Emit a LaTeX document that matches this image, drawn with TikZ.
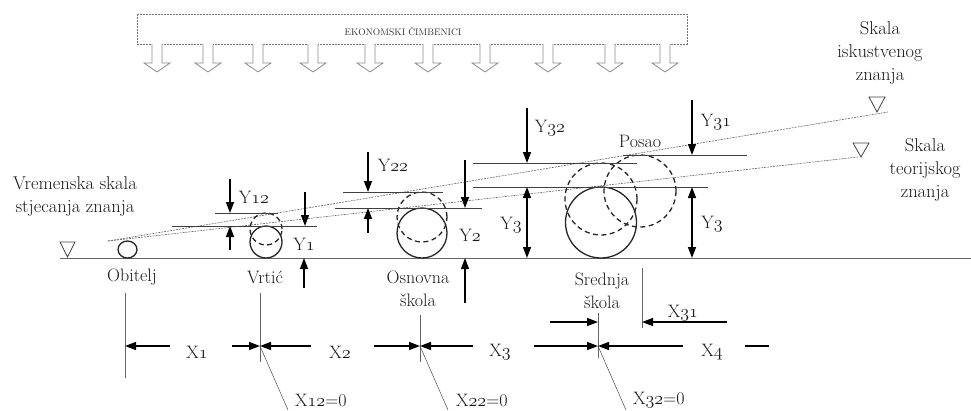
\documentclass[tikz,border=0pt]{standalone}
\usepackage{fix-cm}
\usepackage{fontspec}
\usetikzlibrary{arrows.meta}
\newcommand\osf[1]{{\usefont{OML}{cmm}{m}{it}#1}}
\begin{document}
\begin{tikzpicture}[x=1pt,y=-1pt,
  lbl/.style={font=\fontsize{18}{23}\selectfont, inner sep=0pt, text=black!90, align=center},
  big/.style={font=\fontsize{18.5}{23}\selectfont, inner sep=0pt, text=black!90, align=center},
  dimarr/.style={line width=1.4pt, -{Triangle[length=11pt,width=8pt]}},
  dimarrb/.style={line width=1.4pt, {Triangle[length=11pt,width=8pt]}-{Triangle[length=11pt,width=8pt]}},
  hl/.style={line width=0.9pt, draw=black!75},
  gl/.style={line width=0.8pt, draw=black!60},
  scaleline/.style={line width=0.6pt, draw=black!60, dash pattern=on 2pt off 1pt},
  dcirc/.style={line width=1.3pt, draw=black!85, dash pattern=on 5pt off 3.5pt},
  scirc/.style={line width=1.3pt, draw=black!85},
  hollow/.style={draw=black!45, line width=0.8pt, fill=white},
  tri/.style={draw=black!75, line width=0.8pt}
]
\useasboundingbox (0,0) rectangle (971,410);

% economic factors box
\draw[draw=black!55, line width=0.7pt, dash pattern=on 2pt off 1pt] (137,14) rectangle (687,44);
\node[font=\fontsize{9.5}{11}\selectfont, text=black!80, inner sep=0pt] (ek) at (403,31) {EKONOMSKI ČIMBENICI};
\foreach \c in {157,208,258,313,370,428,485,548,610,665}{
  \draw[hollow] (\c-5,44) -- (\c-5,63) -- (\c-13,63) -- (\c,72) -- (\c+13,63) -- (\c+5,63) -- (\c+5,44);
}

% baseline and left triangle
\coordinate (b0) at (60,258);
\coordinate (b1) at (971,258);
\draw[gl] (b0) -- (b1);
\draw[tri] (60,242) -- (75,242) -- (67.5,257) -- cycle;

% knowledge scale lines
\coordinate (s0) at (108,241);
\coordinate (sI) at (888,112);
\coordinate (sT) at (858,157);
\draw[scaleline] (s0) -- (sI);
\draw[scaleline] (s0) -- (sT);
\draw[tri] (869,97) -- (885,97) -- (877,112) -- cycle;
\draw[tri] (853,143) -- (869,143) -- (861,157) -- cycle;

% side texts
\node[big] (vrem) at (75,196) {Vremenska skala\\stjecanja znanja};
\node[big] (isk) at (880,53) {Skala\\iskustvenog\\znanja};
\node[big] (teo) at (925,170) {Skala\\teorijskog\\znanja};

% circles
\draw[scirc] (127.5,249.5) ellipse [x radius=9.5pt, y radius=8.5pt];
\draw[scirc] (266,242) circle [radius=16pt];
\draw[dcirc] (266,229) circle [radius=16pt];
\draw[scirc] (422,233) circle [radius=25pt];
\draw[dcirc] (422,217) circle [radius=25pt];
\draw[scirc] (601,222.5) circle [radius=35.5pt];
\draw[dcirc] (601,199) circle [radius=36pt];
\draw[dcirc] (640,191) circle [radius=36pt];

% stage labels
\node[lbl] (obi) at (132,277) {Obitelj};
\node[lbl] (vrt) at (265,277) {Vrtić};
\node[lbl] (osn) at (418,289) {Osnovna\\škola};
\node[lbl] (sre) at (602,291) {Srednja\\škola};
\node[lbl] (pos) at (640,141) {Posao};

% Vrtic Y dimensions
\draw[hl] (215,213) -- (278,213);
\draw[hl] (172,226) -- (317,226);
\draw[dimarr] (230,179) -- (230,213);
\draw[dimarr] (230,250) -- (230,226);
\draw[dimarr] (305,192) -- (305,226);
\draw[dimarr] (304,288) -- (304,258);
\node[lbl] (y12) at (254,197) {Y\osf{12}};
\node[lbl] (y1) at (304,244) {Y\osf{1}};

% Osnovna Y dimensions
\draw[hl] (343,192) -- (443,192);
\draw[hl] (335,208) -- (482,208);
\draw[dimarr] (368,152) -- (368,192);
\draw[dimarr] (368,233) -- (368,208);
\draw[dimarr] (465,160) -- (465,208);
\draw[dimarr] (465,303) -- (465,258);
\node[lbl] (y22) at (393,165) {Y\osf{22}};
\node[lbl] (y2) at (470,235) {Y\osf{2}};

% Srednja Y dimensions
\draw[hl] (473,163) -- (637,163);
\draw[hl] (623,155) -- (747,155);
\draw[hl] (473,187) -- (708,187);
\draw[dimarr] (527,108) -- (527,163);
\draw[dimarrb] (527,187) -- (527,258);
\draw[dimarr] (692,100) -- (692,155);
\draw[dimarrb] (692,187) -- (692,258);
\node[lbl] (y32) at (550,128) {Y\osf{32}};
\node[lbl] (y31) at (716,122) {Y\osf{31}};
\node[lbl] (y3a) at (511,225) {Y\osf{3}};
\node[lbl] (y3b) at (712,224) {Y\osf{3}};

% X reference lines
\coordinate (p0) at (125,346);
\coordinate (p1) at (260,346);
\coordinate (p2) at (420,346);
\coordinate (p3) at (598,346);
\draw[gl] (125,293) -- (125,378);
\draw[gl] (260,293) -- (260,362);
\draw[gl] (420,315) -- (420,362);
\draw[gl] (598,313) -- (598,358);
\draw[gl] (642,268) -- (642,328);

% X dimensions
\draw[dimarr] (170,346) -- (p0);
\draw[dimarr] (232,346) -- (p1);
\draw[dimarr] (311,346) -- (p1);
\draw[dimarr] (374,346) -- (p2);
\draw[dimarr] (473,346) -- (p2);
\draw[dimarr] (534,346) -- (p3);
\draw[dimarr] (683,346) -- (p3);
\draw[line width=1.4pt] (745,346) -- (769,346);
\draw[dimarr] (550,322) -- (598,322);
\draw[dimarr] (727,322) -- (642,322);
\node[lbl] (x1) at (197,352) {X\osf{1}};
\node[lbl] (x2) at (340,352) {X\osf{2}};
\node[lbl] (x3) at (500,352) {X\osf{3}};
\node[lbl] (x4) at (712,352) {X\osf{4}};
\node[lbl] (x31) at (683,313) {X\osf{31}};

% zero leaders
\coordinate (q1) at (288,410);
\coordinate (q2) at (448,410);
\coordinate (q3) at (626,410);
\draw[line width=0.5pt, draw=black!70] (p1) -- (q1);
\draw[line width=0.5pt, draw=black!70] (p2) -- (q2);
\draw[line width=0.5pt, draw=black!70] (p3) -- (q3);
\node[lbl, anchor=west] (x12) at (295,400) {X\osf{12}=0};
\node[lbl, anchor=west] (x22) at (456,400) {X\osf{22}=0};
\node[lbl, anchor=west] (x32) at (633,400) {X\osf{32}=0};
\end{tikzpicture}
\end{document}
